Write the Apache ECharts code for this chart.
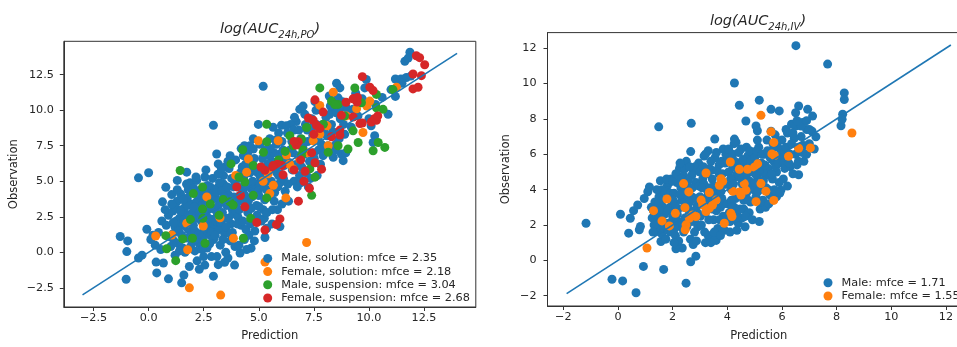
<!DOCTYPE html>
<html>
<head>
<meta charset="utf-8">
<script src="https://cdn.jsdelivr.net/npm/echarts@6/dist/echarts.min.js"></script>
<style>
html,body{margin:0;padding:0;background:#fff;overflow:hidden;}
#chart{width:972px;height:347px;}
</style>
</head>
<body>
<div id="chart"></div>
<script>
// ---------- data ----------
const poTicks = [-2.5, 0, 2.5, 5, 7.5, 10, 12.5];
const ivTicks = [-2, 0, 2, 4, 6, 8, 10, 12];
const poRange = [-3.85, 14.85];
const ivRange = [-2.58, 12.88];
const poDiag = [-3, 14];
const ivDiag = [-1.88, 12.18];

const poNames = ['Male, solution: mfce = 2.35', 'Female, solution: mfce = 2.18',
                 'Male, suspension: mfce = 3.04', 'Female, suspension: mfce = 2.68'];
const ivNames = ['Male: mfce = 1.71', 'Female: mfce = 1.55'];

const maleSolution = [
[-1.29,1.11],[-0.95,0.8],[-0.99,0.05],[-1.02,-1.9],[-0.46,-0.4],[-0.3,-0.2],[-0.08,1.62],[-0.46,5.24],[0,5.6],
[0.37,-1.45],[0.34,-0.69],[0.67,-0.75],[0.9,-1.87],[0.78,4.58],[1.05,4.06],[0.63,3.55],[0.2,1.2],[0.1,0.9],
[0.45,1.4],[0.3,0.5],[0.6,2.2],[0.55,0.2],[0.8,1.9],[0.9,2.6],[0.75,3.0],[1.0,0.4],[0.95,1.1],[1.3,5.06],
[1.1,2.9],[1.2,1.8],[1.3,3.6],[1.4,2.4],[1.5,1.2],[1.5,-2.15],[1.2,-0.2],[1.35,0.6],[1.6,3.1],[1.7,2.7],
[1.73,5.64],[1.8,1.6],[1.9,0.4],[1.6,-1.6],[1.45,4.1],[1.8,4.4],[1.95,3.4],[1.25,2.2],[1.65,0.0],[1.85,-1.0],
[1.9,2.1],[1.55,1.9],[1.1,1.3],[1.75,3.8],
[1.15,0.8],[1.25,3.1],[1.35,1.5],[1.45,2.9],[1.55,0.3],[1.62,2.3],[1.7,1.0],[1.78,3.3],[1.85,2.6],[1.92,1.2],
[1.98,0.7],[1.4,0.1],[1.3,4.4],[1.05,3.4],[1.72,4.8],[1.58,3.7],[1.12,2.1],[1.88,4.9],
[2.18,5.06],[2.0,2.8],[2.1,1.5],[2.2,3.6],[2.3,0.6],[2.4,2.2],[2.5,4.0],[2.6,1.4],[2.7,3.0],[2.8,4.6],
[2.9,2.3],[2.94,-1.68],[2.94,8.94],[2.2,-0.6],[2.35,3.2],[2.55,5.3],[2.65,0.3],[2.75,1.9],[2.85,3.7],[2.45,1.0],
[2.05,4.5],[2.6,2.6],[2.9,5.2],[2.25,2.4],[2.95,0.9],[2.5,-0.3],[2.8,1.2],[2.1,0.1],[2.7,4.2],[2.4,3.8],
[2.03,1.9],[2.08,3.2],[2.13,0.9],[2.17,2.5],[2.22,4.1],[2.28,1.3],[2.32,2.8],[2.38,4.4],[2.42,0.2],[2.47,3.4],
[2.52,1.7],[2.57,2.1],[2.62,3.5],[2.67,4.7],[2.72,2.4],[2.77,0.6],[2.82,3.2],[2.87,1.5],[2.92,4.1],[2.97,2.0],
[2.15,5.3],[2.55,-0.9],[2.85,-0.3],[2.3,-1.2],[2.6,5.8],
[3.09,6.92],[3.16,6.22],[3.16,-0.87],[3.0,3.0],[3.1,4.5],[3.2,1.6],[3.3,3.6],[3.4,5.4],[3.5,2.4],[3.6,4.1],
[3.7,0.8],[3.8,3.0],[3.9,5.0],[3.05,2.2],[3.25,0.5],[3.45,1.3],[3.55,3.3],[3.65,5.9],[3.75,2.0],[3.85,4.6],
[3.95,6.5],[3.15,5.5],[3.35,2.8],[3.6,-0.4],[3.4,4.8],[3.8,1.4],[3.05,3.8],[3.7,6.8],[3.5,0.0],
[3.02,1.2],[3.07,4.2],[3.12,2.6],[3.17,3.3],[3.22,4.9],[3.27,2.1],[3.32,4.3],[3.37,0.9],[3.42,3.9],[3.47,6.0],
[3.52,1.8],[3.57,4.6],[3.62,2.4],[3.67,3.5],[3.72,1.3],[3.77,5.2],[3.82,2.7],[3.87,3.9],[3.92,0.4],[3.97,2.9],
[3.1,-0.3],[3.45,-0.7],[3.9,-0.9],[3.3,5.9],[3.6,6.4],
[4.15,-0.05],[4.65,0.29],[4.35,7.5],[4.75,7.27],[4.98,9.0],[4.0,3.5],[4.1,5.2],[4.2,1.9],[4.3,4.4],[4.4,6.2],
[4.5,2.8],[4.6,5.6],[4.7,3.9],[4.8,6.6],[4.9,4.8],[4.05,2.5],[4.25,6.0],[4.45,3.2],[4.55,1.2],[4.65,4.5],
[4.85,2.2],[4.95,5.6],[4.15,4.0],[4.35,0.9],[4.75,8.0],[4.5,7.0],[4.9,3.3],[4.2,7.3],
[4.02,2.0],[4.07,4.6],[4.12,3.0],[4.17,5.6],[4.22,3.6],[4.27,2.2],[4.32,5.3],[4.37,4.0],[4.42,1.6],[4.47,4.8],
[4.52,3.6],[4.57,6.1],[4.62,2.0],[4.67,3.1],[4.72,5.0],[4.77,4.2],[4.82,1.5],[4.87,5.8],[4.92,2.6],[4.97,4.3],
[4.3,6.8],[4.6,7.5],[4.1,0.5],[4.8,0.8],[4.45,0.2],
[5.2,11.69],[5.28,1.04],[5.36,1.69],[5.96,1.81],[6.03,8.94],[5.0,4.0],[5.1,6.0],[5.2,3.0],[5.3,7.2],[5.4,5.0],
[5.5,8.0],[5.6,6.4],[5.7,3.6],[5.8,7.6],[5.9,5.4],[5.05,7.6],[5.15,5.1],[5.25,2.4],[5.45,6.8],[5.55,4.3],
[5.65,8.8],[5.75,5.9],[5.85,3.0],[5.95,6.9],[5.35,4.4],[5.6,2.0],[5.9,8.4],[5.7,7.0],
[5.02,3.2],[5.07,5.3],[5.12,2.2],[5.17,6.6],[5.22,4.6],[5.27,3.7],[5.32,5.8],[5.37,2.8],[5.42,6.2],[5.47,4.0],
[5.52,7.3],[5.57,5.0],[5.62,3.0],[5.67,6.0],[5.72,4.2],[5.77,7.9],[5.82,5.6],[5.87,4.6],[5.92,6.3],[5.97,4.9],
[6.86,10.06],[6.0,5.5],[6.1,7.2],[6.2,4.3],[6.3,8.4],[6.4,6.3],[6.5,7.8],[6.6,5.0],[6.7,9.2],[6.8,6.8],
[6.9,8.0],[6.15,6.1],[6.35,3.6],[6.45,9.0],[6.55,7.0],[6.75,4.6],[6.95,6.0],[6.25,8.9],[6.6,8.6],[6.85,5.4],[6.05,3.4],
[6.05,7.8],[6.12,5.2],[6.22,6.6],[6.32,4.8],[6.42,7.2],[6.52,5.8],[6.62,9.5],[6.72,6.2],[6.82,8.6],[6.92,4.9],
[7.01,10.29],[7.09,9.71],[7.0,7.4],[7.2,8.6],[7.3,6.4],[7.4,9.4],[7.5,7.0],[7.6,10.0],[7.7,8.0],[7.8,6.2],
[7.9,9.0],[7.15,5.6],[7.45,8.2],[7.65,5.4],[7.85,7.6],[7.25,4.6],[7.55,10.6],[8.0,7.27],[7.95,8.6],
[7.05,6.9],[7.12,9.0],[7.22,7.8],[7.35,5.2],[7.42,8.8],[7.52,6.6],[7.62,9.0],[7.72,7.2],[7.82,8.8],[7.92,6.8],
[8.68,11.57],[8.6,10.87],[8.38,10.52],[8.22,9.71],[8.75,6.92],[8.83,6.45],[8.38,6.69],[8.1,8.2],[8.3,9.0],
[8.5,7.6],[8.7,9.4],[8.9,8.3],[8.45,10.1],[8.8,10.6],[8.2,11.0],[8.53,11.9],
[8.05,9.5],[8.15,7.5],[8.25,10.3],[8.35,8.5],[8.45,7.2],[8.55,9.8],[8.65,8.0],[8.75,10.2],[8.85,9.0],[8.95,7.0],
[9.05,10.06],[9.88,12.16],[9.81,11.57],[10.26,8.2],[10.19,7.73],[10.87,9.71],[9.28,10.06],[9.2,8.8],[9.5,9.6],
[9.7,10.8],[10.0,9.4],[10.3,10.4],[10.6,10.9],[9.4,11.2],[10.1,8.9],
[11.86,14.08],[11.63,13.44],[11.78,13.67],[11.2,12.2],[11.45,12.2],[11.7,12.3],[11.0,11.45],[11.2,10.97],
[11.9,12.4],[11.5,11.9]
];

const femaleSolution = [
[8.38,11.27],[7.77,10.34],[9.44,10.1],[10.04,10.64],[8.98,9.6],[9.73,8.43],[7.47,7.85],[8.15,7.5],[7.77,8.32],
[6.86,6.57],[6.56,5.87],[6.26,6.85],[5.88,7.85],[4.98,7.85],[4.53,6.57],[4.45,5.64],[3.95,5.41],[5.43,5.52],
[5.66,4.71],[5.5,4.13],[6.23,3.83],[2.64,3.9],[3.24,2.43],[2.48,1.85],[1.73,2.04],[1.77,0.18],[0.32,1.15],
[1.05,1.22],[3.85,0.99],[7.17,0.69],[5.28,-0.69],[1.85,-2.5],[3.27,-3.01],[11.25,11.62],[8.1,8.9],[7.2,7.0],
[6.4,6.2],[5.2,5.0],[9.9,10.3]
];

const maleSuspension = [
[1.43,5.76],[2.45,4.59],[2.03,4.13],[2.45,3.04],[2.46,2.39],[2.56,0.64],[1.99,0.99],[1.55,0.94],[0.78,1.17],
[0.82,0.25],[1.23,-0.59],[3.39,3.71],[3.69,3.55],[3.84,3.32],[3.74,6.22],[4.27,7.22],[4.75,6.11],[4.37,4.94],
[4.75,4.01],[4.63,2.39],[4.3,0.99],[5.36,3.83],[5.21,7.04],[5.36,7.78],[5.36,9.01],[6.41,8.2],[6.57,7.5],
[6.94,6.8],[7.4,4.01],[7.55,5.29],[7.32,5.87],[6.94,7.97],[7.17,8.78],[7.77,11.57],[8.3,10.64],[8.6,10.41],
[9.36,11.57],[9.66,10.52],[9.28,8.55],[9.51,7.73],[9.05,7.27],[10.19,7.15],[10.42,7.73],[10.72,7.38],
[10.64,10.06],[10.34,11.11],[10.34,10.17],[11.09,11.45],[8.15,7.04],[8.6,7.5],[7.93,9.01],[8.45,10.4],
[6.2,7.1],[5.9,6.5],[3.2,2.6],[2.8,3.4],[1.9,2.3],[4.1,5.3],[7.0,7.2],[8.9,9.6]
];

const femaleSuspension = [
[12.15,13.83],[12.3,13.7],[12.53,13.2],[12.0,12.55],[12.38,12.43],[12.0,11.5],[12.23,11.62],[9.7,12.36],
[10.04,11.62],[10.19,11.38],[9.28,10.8],[9.46,10.57],[7.55,10.73],[7.92,9.87],[8.75,9.64],[9.28,9.52],
[10.34,9.29],[10.11,9.17],[7.47,9.29],[7.62,8.94],[7.77,8.71],[8.68,8.6],[9.59,9.06],[8.3,8.13],[8.68,8.25],
[6.79,7.78],[6.7,7.55],[7.4,7.0],[7.55,6.3],[7.85,5.85],[7.1,5.7],[7.05,5.0],[7.3,4.5],[6.8,3.6],[5.96,2.35],
[5.8,1.95],[5.28,1.57],[4.91,2.1],[4.37,3.2],[4.17,4.0],[4.0,4.6],[5.28,5.77],[5.64,6.0],[6.1,5.45],[6.05,6.1],
[5.85,6.2],[5.65,6.1],[6.6,5.8],[8.96,10.56],[9.3,10.8],[9.48,10.9],[9.7,9.1],[10.25,9.4],[10.4,9.6],
[7.25,9.45],[7.5,8.3],[6.6,7.8],[6.9,6.5],[5.1,6.0]
];

const ivMale = [
[6.51,12.14],[7.67,11.1],[4.26,10.03],[5.17,9.06],[4.44,8.77],[1.49,7.55],[2.68,7.75],[4.68,7.88],[5.6,8.54],
[5.9,8.45],[6.61,8.73],[6.94,8.54],[7.12,8.16],[6.5,8.35],[8.28,9.47],[8.28,9.1],[8.22,8.26],[8.16,7.61],
[8.2,7.98],[7.24,6.99],[7.18,6.3],[5.05,7.6],[5.1,7.33],[4.26,6.86],[4.32,6.68],[3.54,6.86],[2.66,6.15],
[6.61,4.84],[5.96,3.97],[5.17,2.2],[3.59,1.13],[2.85,0.24],[2.66,-0.08],[2.12,0.66],[1.67,-0.51],[0.93,-0.34],
[-0.22,-1.07],[0.17,-1.16],[0.66,-1.83],[2.49,-1.29],[-1.17,2.1],[0.09,2.61],[0.39,1.54],[0.45,2.38],
[0.78,1.73],[0.82,1.92],[0.57,2.81],[0.72,3.13],[1.15,4.15],[1.09,3.88],[0.96,3.5],[1.51,1.63],[1.57,1.07],
[1.3,2.8],[1.4,2.2],[1.5,3.6],[1.6,1.5],[1.7,2.6],[1.8,4.2],[1.9,3.0],[1.35,3.3],[1.45,1.9],[1.55,4.5],
[1.65,3.0],[1.75,1.2],[1.85,2.1],[1.95,4.6],[1.25,2.4],[1.6,4.0],[1.8,3.5],[1.9,1.6],[1.5,2.5],[1.7,3.9],
[1.22,3.0],[1.32,2.0],[1.42,4.0],[1.52,2.9],[1.62,3.4],[1.72,2.1],[1.82,2.8],[1.92,3.8],[1.28,1.6],[1.48,3.2],
[1.68,1.8],[1.88,4.4],[1.58,2.2],[1.78,4.6],[1.98,2.2],[1.38,2.6],
[2.0,2.5],[2.05,3.8],[2.1,1.4],[2.15,4.4],[2.2,2.9],[2.25,5.2],[2.3,1.9],[2.35,3.4],[2.4,4.8],[2.45,2.4],
[2.5,5.6],[2.55,3.0],[2.6,4.1],[2.65,1.2],[2.7,3.6],[2.75,5.0],[2.8,2.2],[2.85,4.4],[2.9,3.1],[2.95,5.5],
[2.0,4.5],[2.1,3.2],[2.3,4.1],[2.4,1.6],[2.5,3.7],[2.6,2.6],[2.7,4.8],[2.8,1.6],[2.9,2.7],[2.2,2.2],
[2.45,5.2],[2.75,0.9],[2.35,0.7],[2.15,0.9],
[2.02,3.4],[2.07,1.8],[2.12,4.9],[2.17,2.6],[2.22,1.1],[2.27,3.7],[2.32,4.6],[2.37,2.1],[2.42,3.0],[2.47,4.0],
[2.52,1.9],[2.57,4.5],[2.62,3.3],[2.67,2.2],[2.72,4.1],[2.77,2.8],[2.82,5.3],[2.87,3.5],[2.92,1.9],[2.97,4.2],
[2.27,5.5],[2.62,5.3],[2.87,1.1],[2.05,1.0],
[3.0,3.6],[3.05,2.0],[3.1,4.6],[3.15,5.9],[3.2,2.7],[3.25,4.0],[3.3,1.4],[3.35,5.2],[3.4,3.2],[3.45,4.6],
[3.5,2.3],[3.55,5.8],[3.6,3.8],[3.65,1.8],[3.7,4.9],[3.75,3.0],[3.8,5.6],[3.85,2.5],[3.9,4.3],[3.95,6.0],
[3.0,5.0],[3.1,3.3],[3.2,1.0],[3.3,3.7],[3.4,5.6],[3.5,4.2],[3.6,2.8],[3.7,5.4],[3.8,3.5],[3.9,1.7],
[3.3,6.2],[3.55,1.2],[3.85,6.3],[3.45,2.9],[3.15,4.3],[3.75,4.3],
[3.02,2.5],[3.07,4.1],[3.12,5.3],[3.17,1.6],[3.22,3.5],[3.27,4.9],[3.32,2.3],[3.37,4.1],[3.42,5.1],[3.47,3.6],
[3.52,1.6],[3.57,3.0],[3.62,5.1],[3.67,4.2],[3.72,2.3],[3.77,3.9],[3.82,4.9],[3.87,3.2],[3.92,5.5],[3.97,2.4],
[3.2,6.0],[3.6,6.1],[3.4,1.0],[3.75,1.4],
[4.0,3.2],[4.05,5.0],[4.1,2.2],[4.15,4.0],[4.2,6.0],[4.25,3.0],[4.3,4.7],[4.35,2.6],[4.4,5.5],[4.45,3.7],
[4.5,6.3],[4.55,4.3],[4.6,2.9],[4.65,5.4],[4.7,3.8],[4.75,5.9],[4.8,4.5],[4.85,3.3],[4.9,5.3],[4.95,4.0],
[4.0,4.3],[4.1,1.6],[4.2,5.3],[4.3,3.5],[4.4,2.1],[4.5,5.0],[4.6,3.4],[4.7,6.4],[4.8,2.7],[4.9,6.1],
[4.25,6.6],[4.55,2.4],[4.35,4.9],[4.15,3.4],
[4.02,5.6],[4.07,2.7],[4.12,4.6],[4.17,3.0],[4.22,4.3],[4.27,5.6],[4.32,2.4],[4.37,3.8],[4.42,6.1],[4.47,2.9],
[4.52,4.6],[4.57,5.7],[4.62,3.8],[4.67,2.5],[4.72,4.9],[4.77,3.4],[4.82,6.2],[4.87,4.1],[4.92,2.3],[4.97,5.0],
[4.35,1.7],[4.65,1.9],[4.05,6.3],[4.85,5.6],
[5.0,5.8],[5.05,3.6],[5.1,4.8],[5.15,6.4],[5.2,4.2],[5.25,5.5],[5.3,3.4],[5.35,6.0],[5.4,4.8],[5.45,6.8],
[5.5,5.2],[5.55,3.7],[5.6,6.2],[5.65,4.6],[5.7,5.6],[5.75,7.1],[5.8,5.0],[5.85,6.4],[5.9,4.4],[5.95,5.8],
[5.0,4.4],[5.2,2.9],[5.3,5.0],[5.4,3.0],[5.6,7.3],[5.8,3.6],[5.1,6.8],[5.5,4.0],
[5.02,4.9],[5.07,6.2],[5.12,3.9],[5.17,5.1],[5.22,3.3],[5.27,6.0],[5.32,4.5],[5.37,5.4],[5.42,4.1],[5.47,6.2],
[5.52,3.2],[5.57,5.8],[5.62,4.9],[5.67,6.6],[5.72,4.0],[5.77,5.3],[5.82,6.8],[5.87,5.5],[5.92,3.8],[5.97,6.2],
[6.05,5.5],[6.1,6.1],[6.15,7.4],[6.2,4.2],[6.3,5.3],
[6.0,6.8],[6.1,5.2],[6.2,7.2],[6.3,6.0],[6.4,4.9],[6.5,7.6],[6.6,6.4],[6.7,7.0],[6.8,5.6],[6.9,7.4],
[7.0,6.6],[6.15,6.4],[6.35,7.7],[6.55,5.4],[6.75,7.8],[6.45,6.9],[6.25,5.5],[6.05,4.6],[6.9,6.0],[7.1,7.3],
[6.4,7.2],[6.5,6.0],[6.6,5.6],[6.7,7.6],[6.8,6.5],[6.9,7.9],[7.0,7.4],[6.55,7.9],[6.35,6.6],[6.75,6.1]
];

const ivFemale = [
[5.23,8.2],[5.6,7.27],[5.7,6.67],[5.63,6.02],[5.72,5.93],[6.24,5.89],[6.61,6.34],[7.04,6.36],[8.56,7.2],
[5.7,3.39],[5.41,3.91],[5.23,4.34],[5.05,3.32],[4.44,5.15],[4.74,5.15],[4.11,5.56],[3.22,4.94],[3.77,4.62],
[3.83,4.47],[3.71,4.25],[4.2,3.91],[4.44,3.87],[4.5,3.69],[4.68,3.97],[3.34,3.84],[2.59,3.87],[2.4,4.34],
[1.79,3.47],[1.3,2.81],[1.61,2.23],[1.88,1.95],[2.1,2.66],[2.45,2.98],[2.73,2.57],[2.85,2.48],[2.61,2.38],
[2.49,2.01],[2.46,1.73],[3.04,3.41],[3.1,3.13],[3.34,2.94],[3.22,2.76],[3.89,2.1],[4.13,2.66],[4.17,2.48],
[1.06,0.7],[3.59,3.41],[3.46,3.13],[4.62,4.34],[4.99,5.27],[5.11,5.46]
];

// ---------- chart ----------
const C = ['#1f77b4', '#ff7f0e', '#2ca02c', '#d62728'];
const FONT = 'DejaVu Sans';
const TXT = '#262626';

function fmt1(v){ return (v < 0 ? '\u2212' : '') + Math.abs(v).toFixed(1); }
function fmt0(v){ return (v < 0 ? '\u2212' : '') + Math.abs(v).toFixed(0); }

function makeAxis(idx, range, ticks, fmt, name, nameGap, labelMargin){
  return {
    type: 'value', gridIndex: idx, min: range[0], max: range[1],
    name: name, nameLocation: 'middle', nameGap: nameGap,
    nameTextStyle: {fontFamily: FONT, fontSize: 11.5, color: TXT},
    axisLine: {show: true, onZero: false, lineStyle: {color: '#333', width: 1}},
    axisTick: {show: true, length: 4, inside: false, customValues: ticks, lineStyle: {color: '#333', width: 1}},
    axisLabel: {customValues: ticks, formatter: fmt, margin: labelMargin,
                fontFamily: FONT, fontSize: 11.2, color: TXT},
    splitLine: {show: false}
  };
}

function scatter(name, data, xi, color){
  return {type: 'scatter', name: name, data: data, xAxisIndex: xi, yAxisIndex: xi,
          symbol: 'circle', symbolSize: 9, itemStyle: {color: color, opacity: 1},
          emphasis: {disabled: true}};
}
function diag(d, xi){
  return {type: 'line', data: [[d[0], d[0]], [d[1], d[1]]], xAxisIndex: xi, yAxisIndex: xi,
          showSymbol: false, symbol: 'none', z: 5,
          lineStyle: {color: C[0], width: 1.6}, emphasis: {disabled: true}};
}

const titleRich = {
  i: {fontFamily: FONT, fontStyle: 'italic', fontWeight: 'normal', fontSize: 14.5, color: TXT, lineHeight: 22, verticalAlign: 'middle'},
  s: {fontFamily: FONT, fontStyle: 'italic', fontWeight: 'normal', fontSize: 10, color: TXT, lineHeight: 13, verticalAlign: 'bottom'}
};

const legendText = {fontFamily: FONT, fontSize: 11.3, color: TXT, lineHeight: 13.2};

const option = {
  animation: false,
  backgroundColor: '#fff',
  title: [
    {text: '{i|log(AUC}{s|24h,PO}{i|)}', left: 270, top: 18, padding: 0, textAlign: 'center',
     textStyle: {fontWeight: 'normal', rich: titleRich}},
    {text: '{i|log(AUC}{s|24h,IV}{i|)}', left: 758, top: 10, padding: 0, textAlign: 'center',
     textStyle: {fontWeight: 'normal', rich: titleRich}}
  ],
  grid: [
    {left: 63.8, top: 41.3, width: 412, height: 268, show: true, borderColor: '#333', borderWidth: 1, backgroundColor: '#fff'},
    {left: 547.5, top: 32.6, width: 422.5, height: 276, show: true, borderColor: '#333', borderWidth: 1, backgroundColor: '#fff'}
  ],
  xAxis: [
    makeAxis(0, poRange, poTicks, fmt1, 'Prediction', 23, 6),
    makeAxis(1, ivRange, ivTicks, fmt0, 'Prediction', 24, 6)
  ],
  yAxis: [
    makeAxis(0, poRange, poTicks, fmt1, 'Observation', 44, 10),
    makeAxis(1, ivRange, ivTicks, fmt0, 'Observation', 35, 11)
  ],
  legend: [
    {data: poNames, orient: 'vertical', left: 263.2, top: 251.8, padding: 0, itemGap: 0,
     itemWidth: 17, itemHeight: 9, icon: 'circle', textStyle: legendText, selectedMode: false},
    {data: ivNames, orient: 'vertical', left: 823.5, top: 276.2, padding: 0, itemGap: 0,
     itemWidth: 17, itemHeight: 9, icon: 'circle', textStyle: legendText, selectedMode: false}
  ],
  series: [
    scatter(poNames[0], maleSolution, 0, C[0]),
    scatter(poNames[1], femaleSolution, 0, C[1]),
    scatter(poNames[2], maleSuspension, 0, C[2]),
    scatter(poNames[3], femaleSuspension, 0, C[3]),
    diag(poDiag, 0),
    scatter(ivNames[0], ivMale, 1, C[0]),
    scatter(ivNames[1], ivFemale, 1, C[1]),
    diag(ivDiag, 1)
  ]
};

const chart = echarts.init(document.getElementById('chart'), null, {renderer: 'canvas'});
chart.setOption(option);
</script>
</body>
</html>
